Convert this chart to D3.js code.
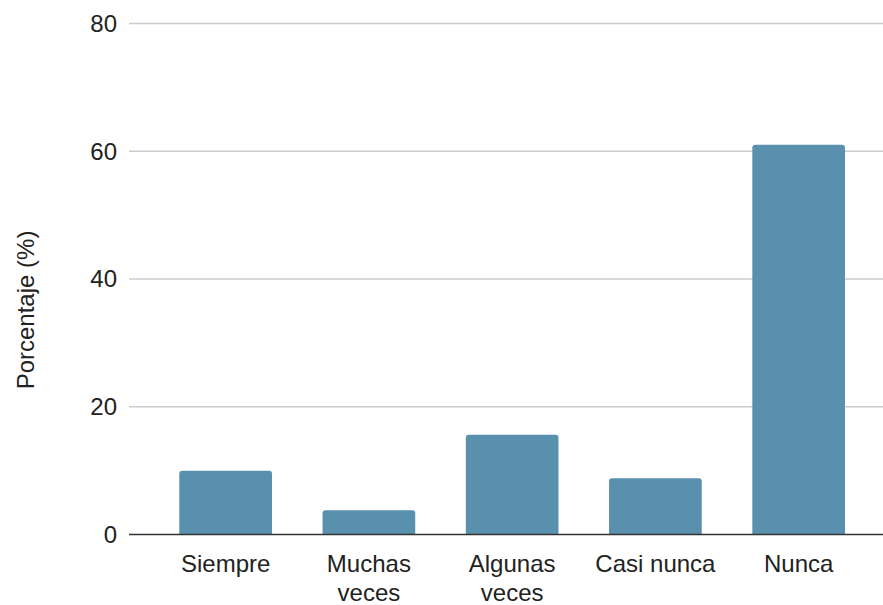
<!DOCTYPE html>
<html>
<head>
<meta charset="utf-8">
<script src="https://d3js.org/d3.v7.min.js"></script>
<style>
  body { margin: 0; background: #fff; }
  text { font-family: "Liberation Sans", Arial, sans-serif; }
</style>
</head>
<body>
<div id="chart"></div>
<script>
var categories = ['Siempre', 'Muchas veces', 'Algunas veces', 'Casi nunca', 'Nunca'];
var labelLines = [['Siempre'], ['Muchas', 'veces'], ['Algunas', 'veces'], ['Casi nunca'], ['Nunca']];
var values = [10.0, 3.8, 15.6, 8.8, 61.0];
var yTicks = [0, 20, 40, 60, 80];

var width = 883, height = 605;
var plotLeft = 129, plotRight = 883;
var yTop = 23.5, yBottom = 534.5;

var svg = d3.select('#chart').append('svg')
    .attr('width', width)
    .attr('height', height);

var x = d3.scaleBand()
    .domain(categories)
    .range([179.3, 845])
    .paddingInner(0.353)
    .paddingOuter(0);

var y = d3.scaleLinear()
    .domain([0, 80])
    .range([yBottom, yTop]);

// gridlines
svg.append('g').selectAll('line')
    .data(yTicks.filter(function(d){ return d > 0; }))
    .enter().append('line')
    .attr('x1', plotLeft)
    .attr('x2', plotRight)
    .attr('y1', function(d){ return y(d); })
    .attr('y2', function(d){ return y(d); })
    .attr('stroke', '#cccccc')
    .attr('stroke-width', 1.5);

// y tick labels
svg.append('g').selectAll('text')
    .data(yTicks)
    .enter().append('text')
    .attr('x', 117)
    .attr('y', function(d){ return y(d); })
    .attr('dy', '0.35em')
    .attr('text-anchor', 'end')
    .attr('font-size', '24px')
    .attr('fill', '#222')
    .text(function(d){ return d; });

// bars (rounded top corners)
svg.append('g').selectAll('path')
    .data(values)
    .enter().append('path')
    .attr('fill', '#5990ae')
    .attr('d', function(d, i){
        var x0 = x(categories[i]), w = x.bandwidth();
        var y0 = y(d), y1 = y(0), r = 3;
        return 'M' + x0 + ',' + y1 +
            'V' + (y0 + r) +
            'Q' + x0 + ',' + y0 + ' ' + (x0 + r) + ',' + y0 +
            'H' + (x0 + w - r) +
            'Q' + (x0 + w) + ',' + y0 + ' ' + (x0 + w) + ',' + (y0 + r) +
            'V' + y1 + 'Z';
    });

// baseline
svg.append('line')
    .attr('x1', plotLeft)
    .attr('x2', plotRight)
    .attr('y1', y(0))
    .attr('y2', y(0))
    .attr('stroke', '#333')
    .attr('stroke-width', 1.5);

// category labels
var catLabels = svg.append('g').selectAll('text')
    .data(categories)
    .enter().append('text')
    .attr('text-anchor', 'middle')
    .attr('font-size', '24px')
    .attr('fill', '#222')
    .attr('x', function(d){ return x(d) + x.bandwidth() / 2; })
    .attr('y', 572);

catLabels.each(function(d, i){
    var t = d3.select(this);
    labelLines[i].forEach(function(line, j){
        t.append('tspan')
            .attr('x', x(d) + x.bandwidth() / 2)
            .attr('dy', j === 0 ? 0 : 29)
            .text(line);
    });
});

// y axis title
svg.append('text')
    .attr('transform', 'translate(34,' + 310 + ') rotate(-90)')
    .attr('text-anchor', 'middle')
    .attr('font-size', '24px')
    .attr('fill', '#222')
    .text('Porcentaje (%)');
</script>
</body>
</html>
